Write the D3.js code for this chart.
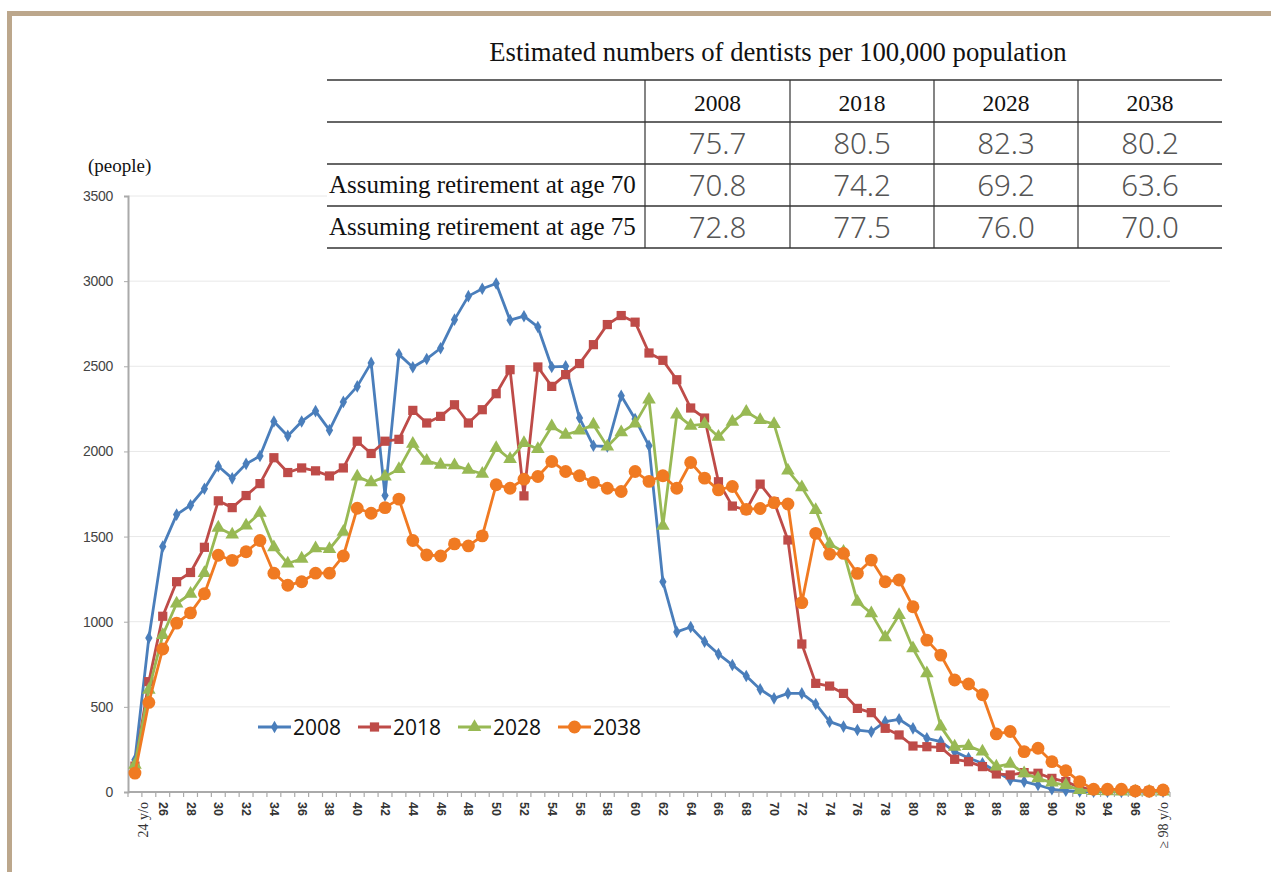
<!DOCTYPE html>
<html>
<head>
<meta charset="utf-8">
<script src="https://cdn.jsdelivr.net/npm/d3@7"></script>
<style>
  html, body { margin: 0; padding: 0; background: #fff; }
  svg { display: block; }
</style>
</head>
<body>
<svg id="chart" width="1271" height="872"></svg>
<script>
// ---------------- DATA ----------------
const ages = d3.range(24, 99); // 24 .. 98
const xTickLabels = ["24 y/o","26","28","30","32","34","36","38","40","42","44","46","48","50","52","54","56","58","60","62","64","66","68","70","72","74","76","78","80","82","84","86","88","90","92","94","96","≥ 98 y/o"];
const yTicks = [0, 500, 1000, 1500, 2000, 2500, 3000, 3500];

const s2008 = [190, 905, 1441, 1629, 1684, 1781, 1913, 1842, 1927, 1973,
  2176, 2091, 2176, 2237, 2125, 2291, 2382, 2520, 1741, 2570,
  2494, 2543, 2606, 2774, 2912, 2955, 2986, 2771, 2794, 2731,
  2496, 2500, 2196, 2033, 2029, 2327, 2190, 2033, 1235, 940,
  969, 883, 810, 746, 681, 603, 550, 579, 579, 517,
  413, 384, 364, 354, 413, 427, 374, 315, 296, 237,
  200, 169, 120, 71, 61, 41, 16, 8, 3, 2,
  2, 1, 1, 1, 2];
const s2018 = [152, 648, 1032, 1235, 1289, 1437, 1710, 1670, 1741, 1811,
  1963, 1876, 1903, 1886, 1856, 1903, 2060, 1988, 2060, 2071,
  2241, 2167, 2206, 2274, 2167, 2245, 2339, 2480, 1739, 2496,
  2382, 2451, 2516, 2627, 2745, 2798, 2759, 2578, 2535, 2421,
  2255, 2196, 1822, 1679, 1656, 1808, 1705, 1480, 869, 638,
  622, 579, 491, 466, 374, 335, 270, 266, 262, 192,
  178, 149, 106, 100, 114, 110, 80, 61, 27, 12,
  10, 10, 8, 6, 10];
const s2028 = [160, 600, 921, 1107, 1164, 1285, 1552, 1512, 1565, 1639,
  1437, 1342, 1370, 1431, 1427, 1528, 1852, 1818, 1852, 1896,
  2044, 1945, 1921, 1918, 1892, 1869, 2020, 1955, 2049, 2014,
  2147, 2098, 2123, 2157, 2029, 2112, 2163, 2304, 1563, 2216,
  2151, 2160, 2086, 2174, 2233, 2184, 2160, 1887, 1789, 1656,
  1456, 1411, 1117, 1049, 908, 1039, 843, 697, 384, 266,
  270, 237, 149, 165, 110, 80, 55, 41, 12, 5,
  4, 3, 2, 2, 3];
const s2038 = [111, 526, 840, 992, 1052, 1164, 1390, 1360, 1411, 1477,
  1285, 1214, 1235, 1285, 1285, 1386, 1666, 1637, 1670, 1720,
  1477, 1392, 1386, 1457, 1445, 1504, 1804, 1784, 1837, 1853,
  1941, 1882, 1857, 1818, 1784, 1765, 1882, 1824, 1857, 1784,
  1935, 1843, 1774, 1794, 1660, 1665, 1699, 1691, 1112, 1519,
  1397, 1401, 1284, 1362, 1235, 1245, 1088, 892, 804, 658,
  634, 571, 341, 355, 237, 257, 178, 125, 61, 16,
  16, 16, 6, 4, 12];

const seriesNames = ["2008", "2018", "2028", "2038"];
const seriesValues = [s2008, s2018, s2028, s2038];

// table data
const tableTitle = "Estimated numbers of dentists per 100,000 population";
const tableYears = ["2008", "2018", "2028", "2038"];
const tableRowLabels = ["", "Assuming retirement at age 70", "Assuming retirement at age 75"];
const tableRowAll = ["75.7", "80.5", "82.3", "80.2"];
const tableRow70 = ["70.8", "74.2", "69.2", "63.6"];
const tableRow75 = ["72.8", "77.5", "76.0", "70.0"];

// ---------------- STYLE ----------------
const colors = ["#4a7ebb", "#be4b48", "#98b954", "#f07a22"];
const symbols = [d3.symbolDiamond, d3.symbolSquare, d3.symbolTriangle, d3.symbolCircle];
const symSizes = [46, 85, 80, 130];

const svg = d3.select("#chart");

// frame
const frameColor = "#bca78c";
svg.append("rect").attr("x", 7).attr("y", 11).attr("width", 1264).attr("height", 5).attr("fill", frameColor);
svg.append("rect").attr("x", 7).attr("y", 11).attr("width", 5).attr("height", 861).attr("fill", frameColor);

// scales
const x = d3.scaleBand().domain(ages).range([128, 1170]).padding(0);
const xc = a => x(a) + x.bandwidth() / 2;
const y = d3.scaleLinear().domain([0, 3500]).range([792, 196]);

// gridlines
svg.append("g").selectAll("line").data(yTicks.filter(d => d > 0)).join("line")
  .attr("x1", 128).attr("x2", 1170)
  .attr("y1", d => y(d)).attr("y2", d => y(d))
  .attr("stroke", "#e8e8e8").attr("stroke-width", 1);

// y axis
const yAxis = svg.append("g").attr("transform", "translate(128,0)")
  .call(d3.axisLeft(y).tickValues(yTicks).tickSize(4).tickPadding(11).tickFormat(d3.format("d")));
yAxis.select(".domain").attr("stroke", "#aaaaaa").attr("stroke-width", 2);
yAxis.selectAll(".tick line").attr("stroke", "#aaaaaa");
yAxis.selectAll("text").attr("font-family", "'Liberation Sans', sans-serif")
  .attr("font-size", 14).attr("fill", "#444").style("letter-spacing", "-0.3px");

svg.append("text").attr("x", 88).attr("y", 172).text("(people)")
  .attr("font-family", "'Liberation Serif', 'DejaVu Serif', serif").attr("font-size", 19).attr("fill", "#111");

// x axis
const xAxisG = svg.append("g");
xAxisG.append("line").attr("x1", 128).attr("x2", 1170).attr("y1", y(0)).attr("y2", y(0))
  .attr("stroke", "#aaaaaa").attr("stroke-width", 2);
const boundaries = ages.map(a => x(a)).concat([x(ages[ages.length - 1]) + x.bandwidth()]);
xAxisG.selectAll("line.tk").data(boundaries).join("line").attr("class", "tk")
  .attr("x1", d => d).attr("x2", d => d).attr("y1", y(0)).attr("y2", y(0) + 5)
  .attr("stroke", "#aaaaaa").attr("stroke-width", 1.2);
const labelAges = ages.filter(a => a % 2 === 0);
const lastIdx = labelAges.length - 1;
xAxisG.selectAll("text").data(labelAges).join("text")
  .attr("transform", (a, i) => {
    if (i === 0) return `translate(${xc(a) + 13},${y(0) + 10}) rotate(-90)`;
    if (i === lastIdx) return `translate(${xc(a) + 5},${y(0) + 10}) rotate(-90)`;
    return `translate(${xc(a) - 4},${y(0) + 10}) rotate(90)`;
  })
  .attr("text-anchor", (a, i) => (i === 0 || i === lastIdx) ? "end" : "start")
  .attr("font-size", (a, i) => (i === 0 || i === lastIdx) ? 14 : 12.5)
  .attr("fill", "#333")
  .attr("font-weight", (a, i) => (i === 0 || i === lastIdx) ? "normal" : "bold")
  .attr("font-family", (a, i) => (i === 0 || i === lastIdx) ? "'Liberation Serif', serif" : "'Liberation Sans', sans-serif")
  .text((a, i) => xTickLabels[i]);

// lines + markers
const line = d3.line().x((d, i) => xc(ages[i])).y(d => y(d));
seriesValues.forEach((vals, si) => {
  const g = svg.append("g");
  g.append("path").datum(vals).attr("d", line)
    .attr("fill", "none").attr("stroke", colors[si]).attr("stroke-width", 2.8)
    .attr("stroke-linejoin", "round");
  g.selectAll("path.m").data(vals).join("path").attr("class", "m")
    .attr("d", d3.symbol().type(symbols[si]).size(symSizes[si]))
    .attr("transform", (d, i) => `translate(${xc(ages[i])},${y(d)})`)
    .attr("fill", colors[si]);
});

// legend
const legend = svg.append("g").attr("transform", "translate(258,727)");
seriesNames.forEach((name, i) => {
  const lg = legend.append("g").attr("transform", `translate(${i * 100},0)`);
  lg.append("line").attr("x1", 0).attr("x2", 33).attr("y1", 0).attr("y2", 0)
    .attr("stroke", colors[i]).attr("stroke-width", 2.8);
  lg.append("path").attr("d", d3.symbol().type(symbols[i]).size(symSizes[i]))
    .attr("transform", "translate(16.5,0)").attr("fill", colors[i]);
  lg.append("text").attr("x", 35).attr("y", 8).text(name)
    .attr("font-family", "'Open Sans', 'Noto Sans', sans-serif").attr("font-size", 21).attr("fill", "#111");
});

// table
const tbl = svg.append("g");
const colX = [327, 645, 790, 934, 1078, 1222];
const rowY = [80, 122, 164, 206, 248];
tbl.append("rect").attr("x", colX[0]).attr("y", rowY[0]).attr("width", colX[5] - colX[0]).attr("height", rowY[4] - rowY[0]).attr("fill", "#fff");
tbl.append("text").attr("x", 778).attr("y", 61).attr("text-anchor", "middle").text(tableTitle)
  .attr("font-family", "'Liberation Serif', serif").attr("font-size", 26.7).attr("fill", "#111");
tbl.selectAll("line.h").data(rowY).join("line").attr("class", "h")
  .attr("x1", colX[0]).attr("x2", colX[5]).attr("y1", d => d).attr("y2", d => d)
  .attr("stroke", "#333").attr("stroke-width", 1.5);
tbl.selectAll("line.v").data(colX.slice(1, 5)).join("line").attr("class", "v")
  .attr("x1", d => d).attr("x2", d => d).attr("y1", rowY[0]).attr("y2", rowY[4])
  .attr("stroke", "#333").attr("stroke-width", 1.2);
const colMid = i => (colX[i + 1] + colX[i + 2]) / 2;
tableYears.forEach((yr, i) => {
  tbl.append("text").attr("x", colMid(i)).attr("y", 111).attr("text-anchor", "middle").text(yr)
    .attr("font-family", "'Liberation Serif', serif").attr("font-size", 23.5).attr("fill", "#111");
});
[tableRowAll, tableRow70, tableRow75].forEach((row, r) => {
  const baseY = rowY[r + 1] + 32;
  tbl.append("text").attr("x", 329).attr("y", baseY - 3).text(tableRowLabels[r])
    .attr("font-family", "'Liberation Serif', serif").attr("font-size", 25).attr("fill", "#111");
  row.forEach((v, i) => {
    tbl.append("text").attr("x", colMid(i)).attr("y", baseY).attr("text-anchor", "middle").text(v)
      .attr("font-family", "'Noto Sans', 'Open Sans', sans-serif").attr("font-size", 29.5).attr("font-weight", 300).attr("fill", "#555");
  });
});
</script>
</body>
</html>
